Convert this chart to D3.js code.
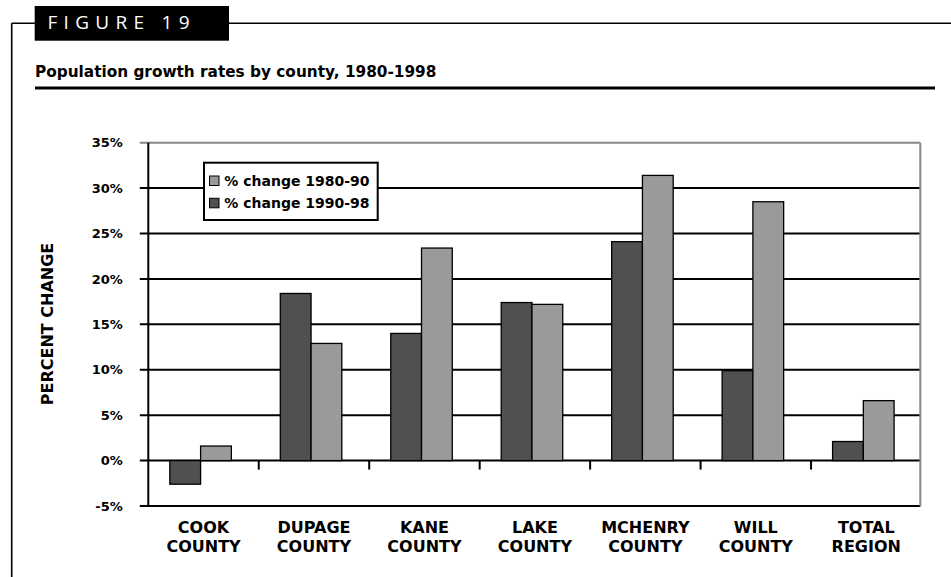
<!DOCTYPE html>
<html>
<head>
<meta charset="utf-8">
<script src="https://cdn.jsdelivr.net/npm/d3@7"></script>
<style>
  body { margin: 0; background: #fff; }
  svg { display: block; }
</style>
</head>
<body>
<svg id="chart"></svg>
<script>
// data
const categories = ["COOK COUNTY", "DUPAGE COUNTY", "KANE COUNTY", "LAKE COUNTY", "MCHENRY COUNTY", "WILL COUNTY", "TOTAL REGION"];
const seriesNames = ["% change 1990-98", "% change 1980-90"];
const change1990_98 = [-2.6, 18.4, 14.0, 17.4, 24.1, 9.9, 2.1];
const change1980_90 = [1.6, 12.9, 23.4, 17.2, 31.4, 28.5, 6.6];
const yTicks = [-5, 0, 5, 10, 15, 20, 25, 30, 35];
const legendOrder = ["% change 1980-90", "% change 1990-98"];

const width = 951;
const height = 577;
const plot = { left: 148.3, right: 920.3, top: 142.7, bottom: 506 };
const chartFont = "'DejaVu Sans', Verdana, sans-serif";

const color = d3.scaleOrdinal()
  .domain(seriesNames)
  .range(["#505050", "#9a9a9a"]);

const rows = categories.map((c, i) => ({
  cat: c,
  values: [
    { key: seriesNames[0], v: change1990_98[i] },
    { key: seriesNames[1], v: change1980_90[i] }
  ]
}));

const svg = d3.select("#chart")
  .attr("width", width)
  .attr("height", height);

// figure frame
svg.append("line")
  .attr("x1", 11.7).attr("x2", width)
  .attr("y1", 23.3).attr("y2", 23.3)
  .attr("stroke", "#000").attr("stroke-width", 1.6);
svg.append("line")
  .attr("x1", 11.7).attr("x2", 11.7)
  .attr("y1", 23.3).attr("y2", height)
  .attr("stroke", "#000").attr("stroke-width", 1.6);

svg.append("rect")
  .attr("x", 34.7).attr("y", 6)
  .attr("width", 194.3).attr("height", 34.7)
  .attr("fill", "#000");
svg.append("text")
  .attr("x", 47.5).attr("y", 28.5)
  .attr("fill", "#fff")
  .style("font-family", "'Open Sans', sans-serif")
  .style("font-size", "19px")
  .style("letter-spacing", "6.3px")
  .text("FIGURE 19");

svg.append("text")
  .attr("x", 35).attr("y", 77.3)
  .style("font-family", chartFont)
  .style("font-weight", "bold")
  .style("font-size", "15.3px")
  .text("Population growth rates by county, 1980-1998");

svg.append("line")
  .attr("x1", 35).attr("x2", 935)
  .attr("y1", 88).attr("y2", 88)
  .attr("stroke", "#000").attr("stroke-width", 3);

// scales
const x0 = d3.scaleBand()
  .domain(categories)
  .range([plot.left, 921.5])
  .padding(0);

const bw = x0.bandwidth();
const x1 = d3.scaleBand()
  .domain(seriesNames)
  .range([0.195 * bw, 0.752 * bw])
  .padding(0);

const y = d3.scaleLinear()
  .domain([-5, 35])
  .range([plot.bottom, plot.top]);

// gridlines (top one is the grey plot border)
svg.append("g")
  .selectAll("line")
  .data(yTicks)
  .join("line")
  .attr("x1", plot.left - 8.5)
  .attr("x2", plot.right)
  .attr("y1", d => y(d))
  .attr("y2", d => y(d))
  .attr("stroke", d => d === 35 ? "#888" : "#000")
  .attr("stroke-width", 2);

// right border
svg.append("line")
  .attr("x1", plot.right).attr("x2", plot.right)
  .attr("y1", plot.top).attr("y2", plot.bottom)
  .attr("stroke", "#888").attr("stroke-width", 2);

// y tick labels
const yAxis = svg.append("g")
  .attr("transform", `translate(${plot.left},0)`)
  .call(d3.axisLeft(y).tickValues(yTicks).tickSize(0).tickPadding(25.5).tickFormat(d => d + "%"));
yAxis.select(".domain").remove();
yAxis.selectAll("text")
  .attr("fill", "#000")
  .style("font-family", chartFont)
  .style("font-weight", "bold")
  .style("font-size", "13px");

// bars
svg.append("g")
  .selectAll("g")
  .data(rows)
  .join("g")
  .attr("transform", d => `translate(${x0(d.cat)},0)`)
  .selectAll("rect")
  .data(d => d.values)
  .join("rect")
  .attr("x", d => x1(d.key))
  .attr("y", d => y(Math.max(0, d.v)))
  .attr("width", x1.bandwidth())
  .attr("height", d => Math.abs(y(d.v) - y(0)))
  .attr("fill", d => color(d.key))
  .attr("stroke", "#000")
  .attr("stroke-width", 1.3);

// y axis line
svg.append("line")
  .attr("x1", plot.left).attr("x2", plot.left)
  .attr("y1", plot.top).attr("y2", plot.bottom + 1)
  .attr("stroke", "#000").attr("stroke-width", 2);

// category boundary ticks on the 0% line
svg.append("g")
  .selectAll("line")
  .data(categories.slice(1))
  .join("line")
  .attr("x1", d => x0(d)).attr("x2", d => x0(d))
  .attr("y1", y(0)).attr("y2", y(0) + 9)
  .attr("stroke", "#000").attr("stroke-width", 2);

// category labels, two lines each
const catLabels = svg.append("g")
  .selectAll("text")
  .data(categories)
  .join("text")
  .attr("x", d => x0(d) + bw / 2)
  .attr("y", 533.3)
  .attr("text-anchor", "middle")
  .style("font-family", chartFont)
  .style("font-weight", "bold")
  .style("font-size", "16px");
catLabels.selectAll("tspan")
  .data(d => d.split(" "))
  .join("tspan")
  .attr("x", function () { return d3.select(this.parentNode).attr("x"); })
  .attr("dy", (d, i) => i === 0 ? 0 : 18.4)
  .text(d => d);

// y axis title
svg.append("text")
  .attr("transform", `translate(53,324) rotate(-90)`)
  .attr("text-anchor", "middle")
  .style("font-family", chartFont)
  .style("font-weight", "bold")
  .style("font-size", "16px")
  .text("PERCENT CHANGE");

// legend
const legend = svg.append("g");
legend.append("rect")
  .attr("x", 204).attr("y", 162.7)
  .attr("width", 173.7).attr("height", 57.3)
  .attr("fill", "#fff")
  .attr("stroke", "#000").attr("stroke-width", 2);

const items = legend.selectAll("g")
  .data(legendOrder)
  .join("g")
  .attr("transform", (d, i) => `translate(0,${i * 22.3})`);
items.append("rect")
  .attr("x", 209.5).attr("y", 176)
  .attr("width", 9.5).attr("height", 9.5)
  .attr("fill", d => color(d))
  .attr("stroke", "#000").attr("stroke-width", 1);
items.append("text")
  .attr("x", 224.3).attr("y", 185.5)
  .style("font-family", chartFont)
  .style("font-weight", "bold")
  .style("font-size", "14px")
  .text(d => d);
</script>
</body>
</html>
